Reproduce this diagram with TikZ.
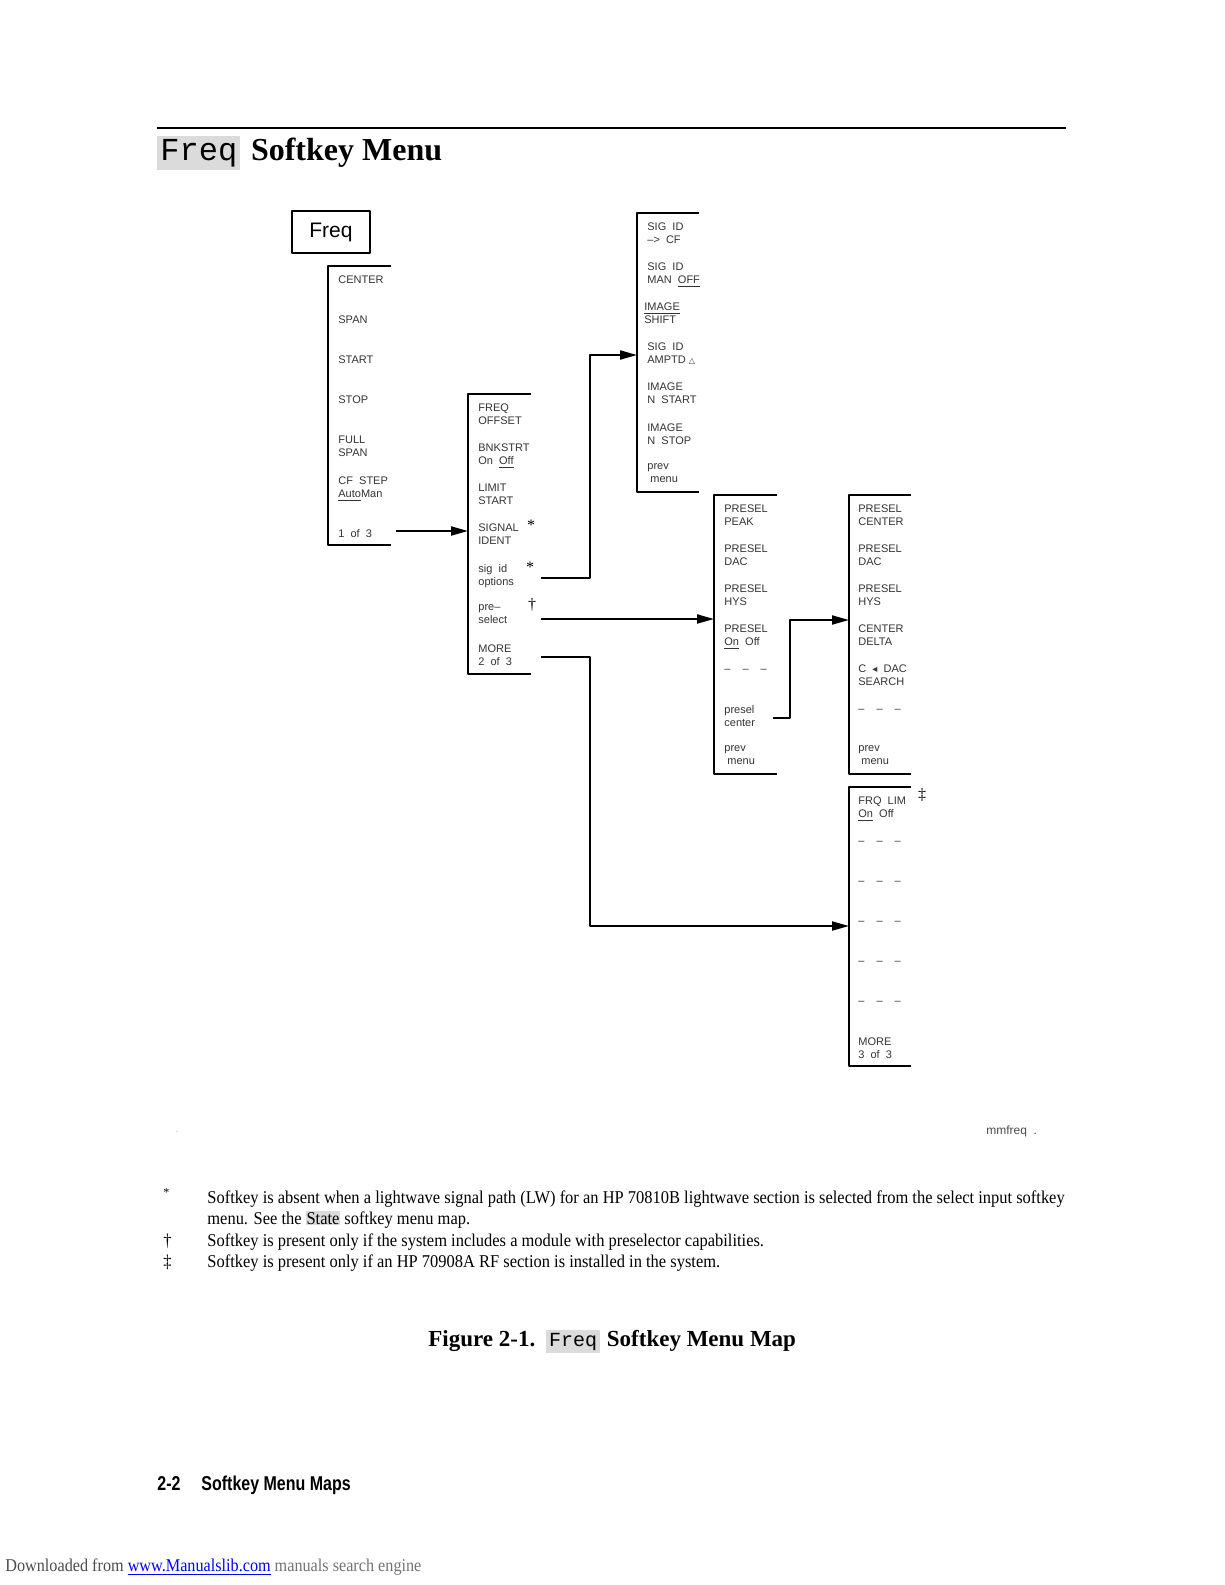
\documentclass[tikz,border=0pt]{standalone}
\usepackage{fontspec}
\setmainfont{Liberation Serif}
\newfontfamily\keyfont{Liberation Sans}
\newfontfamily\monofont{Liberation Mono}
\newfontfamily\notefont[FakeStretch=0.915]{Liberation Serif}
\newfontfamily\footfont[FakeStretch=0.8]{Liberation Sans}
\newfontfamily\dlfont[FakeStretch=0.9]{Liberation Serif}
\newfontfamily\symfont{DejaVu Sans}
\usetikzlibrary{arrows.meta,positioning}
\tikzset{
  menubox/.style={line width=0.9pt},
  softkey/.style={font=\keyfont\fontsize{5.5}{6.5}\selectfont,text=black!80,align=left,anchor=north west,inner sep=0pt},
  goto/.style={line width=1pt,-{Triangle[length=8.5pt,width=4.5pt]}},
  keytag/.style={font=\fontsize{8}{8}\selectfont,inner sep=0pt},
  hardkey/.style={font=\monofont\fontsize{16}{16}\selectfont,fill=black!14,inner sep=1.5pt},
  notetext/.style={font=\notefont\fontsize{9}{9}\selectfont,anchor=base west,inner sep=0pt},
}
\newcommand\dashkey{\vphantom{A}\textendash\hspace{6pt}\textendash\hspace{6pt}\textendash}
\begin{document}
\begin{tikzpicture}[x=0.5pt,y=-0.5pt,line join=round]
\useasboundingbox (0,0) rectangle (1225,1585);
% heading
\draw[line width=1pt] (157,128) -- (1066,128);
\node[hardkey,anchor=base west] (hkey) at (157,160) {Freq};
\node[font=\fontsize{16}{16}\selectfont\bfseries,anchor=base west,inner sep=0pt,right=5pt of hkey.base east,anchor=base west] (htitle) {Softkey Menu};
% hard key
\node[draw,line width=1.4pt,minimum width=39pt,minimum height=21pt,font=\keyfont\fontsize{10.5}{10.5}\selectfont] (freq) at (331,232) {Freq};
% menu 1
\draw[menubox] (391,266) -- (328,266) -- (328,545) -- (391,545);
\foreach \t [count=\k] in {CENTER,SPAN,START,STOP,{FULL\\SPAN},{CF\ \ STEP\\\underline{Auto}Man},{\vphantom{A}\\1\ \ of\ \ 3}}
  \node[softkey] (m1-\k) at (338,{266+9+40.2*(\k-1)}) {\t};
% menu 2
\draw[menubox] (531,394) -- (468,394) -- (468,674) -- (531,674);
\foreach \t [count=\k] in {{FREQ\\OFFSET},{BNKSTRT\\On\ \ \underline{Off}},{LIMIT\\START},{SIGNAL\\IDENT},{sig\ \ id\\options},{pre\textendash\\select},{MORE\\2\ \ of\ \ 3}}
  \node[softkey] (m2-\k) at (478,{394+9+40.2*(\k-1)}) {\t};
\node[keytag] (t1) at (531,525) {*};
\node[keytag] (t2) at (530,567) {*};
\node[keytag] (t3) at (532,605) {\textdagger};
% menu 3
\draw[menubox] (699,213) -- (637,213) -- (637,492) -- (699,492);
\foreach \t [count=\k] in {{SIG\ \ ID\\\textendash>\ \ CF},{SIG\ \ ID\\MAN\ \ \underline{OFF}},{\hspace{-1.5pt}\underline{IMAGE}\\\hspace{-1.5pt}SHIFT},{SIG\ \ ID\\AMPTD {\symfont\fontsize{4}{4}\selectfont △}},{IMAGE\\N\ \ START},{IMAGE\\N\ \ STOP},{prev\\\ menu}}
  \node[softkey] (m3-\k) at (647,{213+9+40.2*(\k-1)}) {\t};
% menu 4
\draw[menubox] (777,495) -- (714,495) -- (714,774) -- (777,774);
\foreach \t [count=\k] in {{PRESEL\\PEAK},{PRESEL\\DAC},{PRESEL\\HYS},{PRESEL\\\underline{On}\ \ Off},\dashkey,{presel\\center},{prev\\\ menu}}
  \node[softkey] (m4-\k) at (724,{495+9+40.2*(\k-1)}) {\t};
% menu 5
\draw[menubox] (911,495) -- (849,495) -- (849,774) -- (911,774);
\foreach \t [count=\k] in {{PRESEL\\CENTER},{PRESEL\\DAC},{PRESEL\\HYS},{CENTER\\DELTA},{C\ \ {\symfont\fontsize{5}{5}\selectfont ◂}\ \ DAC\\SEARCH},\dashkey,{prev\\\ menu}}
  \node[softkey] (m5-\k) at (858,{495+9+40.2*(\k-1)}) {\t};
% menu 6
\draw[menubox] (911,787) -- (849,787) -- (849,1066) -- (911,1066);
\foreach \t [count=\k] in {{FRQ\ \ LIM\\\underline{On}\ \ Off},\dashkey,\dashkey,\dashkey,\dashkey,\dashkey,{MORE\\3\ \ of\ \ 3}}
  \node[softkey] (m6-\k) at (858,{787+9+40.2*(\k-1)}) {\t};
\node[keytag] (t4) at (922,795) {\textdaggerdbl};
% connector ends
\path
(396,531) coordinate (m1-out)
(468,531) coordinate (m2-in)
(541,578) coordinate (m2-out5)
(590,578) coordinate (c1)
(590,355) coordinate (c2)
(637,355) coordinate (m3-in)
(541,619) coordinate (m2-out6)
(714,619) coordinate (m4-in)
(541,657) coordinate (m2-out7)
(590,657) coordinate (c3)
(590,926) coordinate (c4)
(849,926) coordinate (m6-in)
(773,718) coordinate (m4-out6)
(790,718) coordinate (c5)
(790,620) coordinate (c6)
(849,620) coordinate (m5-in)
;
\draw[goto] (m1-out) -- (m2-in);
\draw[goto] (m2-out5) -- (c1) -- (c2) -- (m3-in);
\draw[goto] (m2-out6) -- (m4-in);
\draw[goto] (m2-out7) -- (c3) -- (c4) -- (m6-in);
\draw[goto] (m4-out6) -- (c5) -- (c6) -- (m5-in);
% file tag
\node[font=\keyfont\fontsize{6}{6}\selectfont,text=black!70,anchor=base west,inner sep=0pt] (tag) at (986,1134) {mmfreq\ \ .};
\node[font=\fontsize{4}{4}\selectfont,text=black!50,inner sep=0pt] (dot) at (177,1132) {.};
% notes
\node[notetext,font=\fontsize{6}{6}\selectfont] (n1) at (163,1196) {*};
\node[notetext] (n1a) at (207,1203) {Softkey is absent when a lightwave signal path (LW) for an HP 70810B lightwave section is selected from the select input softkey};
\node[notetext] (n1b) at (207,1224) {menu. See the {\fboxsep=0.4pt\colorbox{black!14}{State}} softkey menu map.};
\node[notetext] (n2) at (163,1246) {\textdagger};
\node[notetext] (n2a) at (207,1246) {Softkey is present only if the system includes a module with preselector capabilities.};
\node[notetext] (n3) at (163,1267) {\textdaggerdbl};
\node[notetext] (n3a) at (207,1267) {Softkey is present only if an HP 70908A RF section is installed in the system.};
% caption
\node[font=\fontsize{11.5}{11.5}\selectfont\bfseries,anchor=base west,inner sep=0pt] (fig) at (428,1346) {Figure 2-1.};
\node[hardkey,font=\monofont\fontsize{10}{10}\selectfont,inner sep=1.5pt,anchor=base west,right=5pt of fig.base east,anchor=base west] (fkey) {Freq};
\node[font=\fontsize{11.5}{11.5}\selectfont\bfseries,anchor=base west,inner sep=0pt,right=3pt of fkey.base east,anchor=base west] (ftitle) {Softkey Menu Map};
% footer
\node[font=\footfont\bfseries\fontsize{10}{10}\selectfont,anchor=base west,inner sep=0pt] (pg) at (157,1490) {2-2};
\node[font=\footfont\bfseries\fontsize{10}{10}\selectfont,anchor=base west,inner sep=0pt] (pgt) at (201,1490) {Softkey Menu Maps};
\node[font=\dlfont\fontsize{9}{9}\selectfont,anchor=base west,inner sep=0pt,text=black!70] (dl) at (5,1571) {Downloaded from \textcolor{blue}{\underline{www.Manualslib.com}} \textcolor{black!55}{manuals search engine}};
\end{tikzpicture}
\end{document}
